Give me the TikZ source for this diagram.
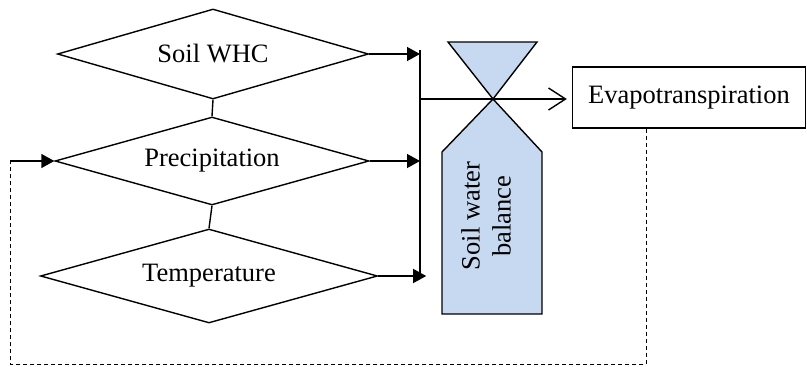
\documentclass[tikz,border=0pt]{standalone}
\usepackage{fontspec}
\setmainfont{Liberation Serif}
\usetikzlibrary{shapes.geometric,arrows.meta}
\definecolor{valveblue}{RGB}{198,217,240}
\tikzstyle{every node}=[font=\fontsize{26.5}{31}\selectfont, inner sep=0pt]
\tikzstyle{input}=[diamond, draw, aspect=3.5, line width=1.4pt]
\tikzstyle{flow}=[line width=1.4pt, -{Triangle[length=13pt,width=14pt]}]
\tikzstyle{valve}=[fill=valveblue, draw, line width=1.4pt]

\begin{document}
\begin{tikzpicture}[x=1pt,y=-1pt]
    \useasboundingbox (0,0) rectangle (807,367);
    \node[input, minimum width=311pt, minimum height=90pt] (whc) at (213,54) {Soil WHC};
    \node[input, minimum width=314pt, minimum height=88pt] (prec) at (212,161) {Precipitation};
    \node[input, minimum width=337pt, minimum height=94pt] (temp) at (209,276) {Temperature};
    \node[draw, line width=1.4pt, minimum width=233pt, minimum height=61pt] (evap) at (689,97.5) {Evapotranspiration};
    \coordinate (b1) at (420,50);
    \coordinate (b0) at (420,99);
    \coordinate (b2) at (420,277);
    \coordinate (v) at (493,99);
    \coordinate (f1) at (646,364);
    \coordinate (f2) at (10,364);
    \coordinate (f3) at (10,161);
    % valve and stock
    \filldraw[valve] (448,42) -- (537,42) -- (v) -- cycle;
    \filldraw[valve] (v) -- (542,152) -- (542,314) -- (442,314) -- (442,152) -- cycle;
    \node[rotate=90, align=center] (swb) at (486,216) {Soil water\\balance};
    \path[draw, line width=1.4pt]
    (whc.south) edge (prec.north)
    (prec.south) edge (temp.north)
    (b1) edge (b2)
    ;
    \draw[flow] (whc.east) -- (whc.east -| b1);
    \draw[flow] (prec.east) -- (prec.east -| b1);
    \draw[flow] (temp.east) -- ++(48,0);
    \draw[line width=1.4pt, -{Straight Barb[length=17pt,width=22pt]}, shorten >=5pt] (b0) -- (b0 -| evap.west);
    % feedback
    \draw[line width=1pt, dash pattern=on 4pt off 3pt] (evap.south -| f1) -- (f1) -- (f2) -- (f3);
    \draw[flow] (f3) -- (prec.west);
\end{tikzpicture}
\end{document}
